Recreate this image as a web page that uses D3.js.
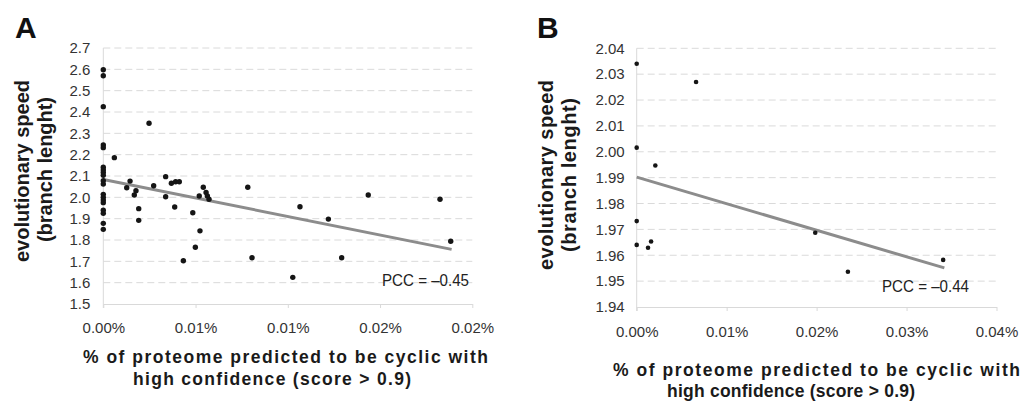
<!DOCTYPE html>
<html>
<head>
<meta charset="utf-8">
<script src="https://cdn.jsdelivr.net/npm/d3@7"></script>
<style>
  body { margin: 0; background: #fff; }
  svg { display: block; font-family: "Liberation Sans", Arial, sans-serif; }
</style>
</head>
<body>
<svg id="chart" width="1024" height="403"></svg>
<script>
// panel A data (x = % of proteome, y = branch length)
const xTicksA = [0, 0.005, 0.01, 0.015, 0.02];
const xTickLabelsA = ["0.00%", "0.01%", "0.01%", "0.02%", "0.02%"];
const yTicksA = [1.5, 1.6, 1.7, 1.8, 1.9, 2.0, 2.1, 2.2, 2.3, 2.4, 2.5, 2.6, 2.7];
const pointsA = [
  [0, 2.598], [0, 2.570], [0, 2.425], [0, 2.245], [0, 2.233], [0, 2.141], [0, 2.128],
  [0, 2.116], [0, 2.103], [0, 2.078], [0, 2.062], [0, 2.014], [0, 2.000], [0, 1.987],
  [0, 1.975], [0, 1.940], [0, 1.925], [0, 1.878], [0, 1.850],
  [0.0006, 2.186], [0.00127, 2.045], [0.00145, 2.076], [0.00168, 2.011], [0.00177, 2.031],
  [0.00192, 1.947], [0.00192, 1.892], [0.00248, 2.347], [0.00273, 2.054], [0.00338, 2.097],
  [0.00338, 2.003], [0.00369, 2.066], [0.00392, 2.073], [0.00412, 2.073], [0.00387, 1.955],
  [0.00434, 1.703], [0.00485, 1.928], [0.00499, 1.766], [0.00524, 1.843], [0.0052, 2.006],
  [0.00542, 2.047], [0.00557, 2.023], [0.00564, 2.006], [0.00573, 1.991], [0.00783, 2.047],
  [0.00806, 1.717], [0.01027, 1.625], [0.01066, 1.956], [0.0122, 1.898], [0.01292, 1.717],
  [0.01436, 2.011], [0.01825, 1.991], [0.01883, 1.794]
];
const trendA = [[0, 2.084], [0.01888, 1.756]];

// panel B data
const xTicksB = [0, 0.01, 0.02, 0.03, 0.04];
const xTickLabelsB = ["0.00%", "0.01%", "0.02%", "0.03%", "0.04%"];
const yTicksB = [1.94, 1.95, 1.96, 1.97, 1.98, 1.99, 2.00, 2.01, 2.02, 2.03, 2.04];
const pointsB = [
  [0, 2.034], [0.0066, 2.027], [0, 2.0016], [0.00207, 1.9947], [0, 1.9732], [0, 1.964],
  [0.00126, 1.9629], [0.0016, 1.9653], [0.01985, 1.9687], [0.02348, 1.9536], [0.03407, 1.9582]
];
const trendB = [[0, 1.9902], [0.0342, 1.9551]];

const yTitle = ["evolutionary speed", "(branch lenght)"];
const xTitle = ["% of proteome predicted to be cyclic with", "high confidence (score > 0.9)"];

const svg = d3.select("#chart");

function drawPanel(p) {
  const x = d3.scaleLinear().domain(d3.extent(p.xTicks)).range([p.left, p.right]);
  const y = d3.scaleLinear().domain(d3.extent(p.yTicks)).range([p.bottom, p.top]);
  const g = svg.append("g");

  // dashed grid
  g.selectAll(".grid")
    .data(p.yTicks.slice(1))
    .join("line")
    .attr("x1", p.left).attr("x2", p.right)
    .attr("y1", d => y(d)).attr("y2", d => y(d))
    .attr("stroke", "#dadada")
    .attr("stroke-dasharray", "7,4");

  // y axis labels
  const yAxis = g.append("g")
    .attr("transform", `translate(${p.left},0)`)
    .call(d3.axisLeft(y).tickValues(p.yTicks).tickSize(0).tickPadding(p.yPad).tickFormat(d3.format(p.yFmt)));
  yAxis.select(".domain").remove();
  yAxis.selectAll("text").attr("font-size", 15).attr("fill", "#333").attr("font-family", null);

  // vertical zero line
  g.append("line")
    .attr("x1", p.left).attr("x2", p.left)
    .attr("y1", p.top).attr("y2", p.bottom + 4)
    .attr("stroke", "#d9d9d9");

  // x axis
  const xAxis = g.append("g")
    .attr("transform", `translate(0,${p.bottom})`)
    .call(d3.axisBottom(x).tickValues(p.xTicks).tickSize(4).tickSizeOuter(0)
      .tickFormat((d, i) => p.xLabels[i]));
  xAxis.select(".domain").attr("stroke", "#d9d9d9");
  xAxis.selectAll("line").attr("stroke", "#d9d9d9");
  xAxis.selectAll("text")
    .attr("font-size", 15).attr("fill", "#333").attr("font-family", null)
    .attr("y", p.xLabelY).attr("dy", null);

  // trend line
  g.append("path")
    .datum(p.trend)
    .attr("fill", "none")
    .attr("stroke", "#8c8c8c")
    .attr("stroke-width", 3)
    .attr("d", d3.line().x(d => x(d[0])).y(d => y(d[1])));

  // points
  g.selectAll(".dot")
    .data(p.points)
    .join("circle")
    .attr("cx", d => x(d[0]))
    .attr("cy", d => y(d[1]))
    .attr("r", p.r)
    .attr("fill", "#151515");

  // PCC
  g.append("text")
    .attr("x", p.pccX).attr("y", p.pccY)
    .attr("font-size", 17).attr("fill", "#222")
    .attr("textLength", 87).attr("lengthAdjust", "spacingAndGlyphs")
    .text(p.pcc);

  // panel letter
  g.append("text")
    .attr("x", p.letterX).attr("y", 38)
    .attr("font-size", 30).attr("font-weight", "bold").attr("fill", "#111")
    .text(p.letter);

  // y title
  yTitle.forEach((t, i) => {
    g.append("text")
      .attr("transform", `translate(${p.yTitleX[i]},${p.yTitleStart[i]}) rotate(-90)`)
      .attr("font-size", 20).attr("font-weight", "bold").attr("fill", "#1a1a1a")
      .attr("textLength", p.yTitleLen[i]).attr("lengthAdjust", "spacing")
      .text(t);
  });

  // x title
  xTitle.forEach((t, i) => {
    g.append("text")
      .attr("x", p.xTitleStart[i]).attr("y", p.xTitleY[i])
      .attr("font-size", 17.5).attr("font-weight", "bold").attr("fill", "#1a1a1a")
      .attr("textLength", p.xTitleLen[i]).attr("lengthAdjust", "spacing")
      .text(t);
  });
}

drawPanel({
  letter: "A", letterX: 15,
  xTicks: xTicksA, xLabels: xTickLabelsA, yTicks: yTicksA, yFmt: ".1f",
  points: pointsA, trend: trendA, r: 2.7,
  left: 103.3, right: 472.3, top: 48, bottom: 304, yPad: 13, xLabelY: 29,
  pcc: "PCC = \u20130.45", pccX: 382, pccY: 285.5,
  yTitleX: [28.5, 51.5], yTitleStart: [262, 242], yTitleLen: [182, 145],
  xTitleStart: [83, 133], xTitleY: [363, 385], xTitleLen: [405, 278]
});

drawPanel({
  letter: "B", letterX: 537,
  xTicks: xTicksB, xLabels: xTickLabelsB, yTicks: yTicksB, yFmt: ".2f",
  points: pointsB, trend: trendB, r: 2.3,
  left: 636.7, right: 996.5, top: 48.3, bottom: 307, yPad: 12, xLabelY: 30,
  pcc: "PCC = \u20130.44", pccX: 882, pccY: 292,
  yTitleX: [553, 576], yTitleStart: [270, 252], yTitleLen: [190, 154],
  xTitleStart: [613, 667], xTitleY: [376, 397], xTitleLen: [407, 248]
});
</script>
</body>
</html>
